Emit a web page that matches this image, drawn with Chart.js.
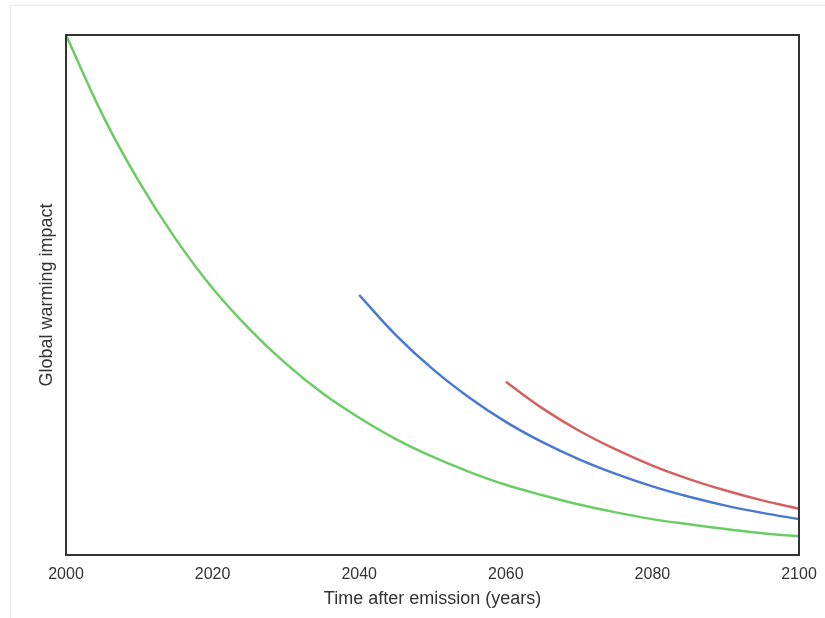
<!DOCTYPE html>
<html>
<head>
<meta charset="utf-8">
<script src="https://cdn.jsdelivr.net/npm/chart.js@4"></script>
<style>
    html, body { margin: 0; padding: 0; background: #fff; }
    #card {
        position: absolute; left: 10px; top: 5px; width: 900px; height: 700px;
        border: 1px solid #ececec; box-shadow: 0 0 3px rgba(0,0,0,0.05);
    }
    #wrap { position: absolute; left: 0; top: 0; width: 825px; height: 618px; }
</style>
</head>
<body>
<div id="card"></div>
<div id="wrap"><canvas id="impactChart" width="825" height="618"></canvas></div>
<script>
// values (y: 0 = bottom of frame, 1 = top)
const years2000 = [2000, 2005, 2010, 2015, 2020, 2025, 2030, 2035, 2040, 2045, 2050,
    2055, 2060, 2065, 2070, 2075, 2080, 2085, 2090, 2095, 2100];
const impact2000 = [1.000, 0.846, 0.717, 0.607, 0.513, 0.435, 0.368, 0.311, 0.264, 0.223, 0.189,
    0.160, 0.135, 0.115, 0.097, 0.082, 0.069, 0.059, 0.050, 0.042, 0.036];

const years2040 = [2040, 2045, 2050, 2055, 2060, 2065, 2070, 2075, 2080, 2085, 2090, 2095, 2100];
const impact2040 = [0.500, 0.423, 0.358, 0.303, 0.256, 0.217, 0.184, 0.156, 0.132, 0.112, 0.095, 0.081, 0.069];

const years2060 = [2060, 2065, 2070, 2075, 2080, 2085, 2090, 2095, 2100];
const impact2060 = [0.333, 0.282, 0.239, 0.203, 0.172, 0.146, 0.124, 0.105, 0.089];

const xTicks = [2000, 2020, 2040, 2060, 2080, 2100];

const textColor = "#333";

function toPoints(xs, ys) {
    return xs.map((x, i) => ({ x: x, y: ys[i] }));
}

// dark frame round the plot area
const frame = {
    id: "frame",
    afterDraw(chart) {
        const a = chart.chartArea;
        const ctx = chart.ctx;
        ctx.save();
        ctx.strokeStyle = "#333";
        ctx.lineWidth = 2;
        ctx.strokeRect(a.left, a.top, a.right - a.left, a.bottom - a.top);
        ctx.restore();
    }
};

const lineStyle = { borderWidth: 2.5, pointRadius: 0, fill: false, tension: 0.4 };

new Chart(document.getElementById("impactChart"), {
    type: "line",
    data: {
        datasets: [
            Object.assign({ data: toPoints(years2000, impact2000), borderColor: "#6acc64" }, lineStyle),
            Object.assign({ data: toPoints(years2040, impact2040), borderColor: "#4878d0" }, lineStyle),
            Object.assign({ data: toPoints(years2060, impact2060), borderColor: "#d65f5f" }, lineStyle)
        ]
    },
    options: {
        responsive: false,
        animation: false,
        layout: { padding: { left: 0, right: 26, top: 35, bottom: 0 } },
        plugins: { legend: { display: false }, tooltip: { enabled: false } },
        scales: {
            x: {
                type: "linear",
                min: 2000,
                max: 2100,
                afterBuildTicks: scale => { scale.ticks = xTicks.map(v => ({ value: v })); },
                afterFit: scale => {
                    scale.height = 63;
                    scale.paddingLeft = 0;
                    scale.paddingRight = 0;
                },
                grid: { display: false, drawTicks: false },
                border: { display: false },
                ticks: {
                    padding: 10,
                    color: textColor,
                    font: { family: "'Liberation Sans', Arial, sans-serif", size: 16 },
                    callback: v => String(v)
                },
                title: {
                    display: true,
                    text: "Time after emission (years)",
                    color: textColor,
                    font: { family: "'Liberation Sans', Arial, sans-serif", size: 18 },
                    padding: { top: 0, bottom: 8 }
                }
            },
            y: {
                min: 0,
                max: 1,
                afterFit: scale => { scale.width = 66; },
                grid: { display: false, drawTicks: false },
                border: { display: false },
                ticks: { display: false },
                title: {
                    display: true,
                    text: "Global warming impact",
                    color: textColor,
                    font: { family: "'Liberation Sans', Arial, sans-serif", size: 18 },
                    padding: { top: 36, bottom: 0 }
                }
            }
        }
    },
    plugins: [frame]
});
</script>
</body>
</html>
